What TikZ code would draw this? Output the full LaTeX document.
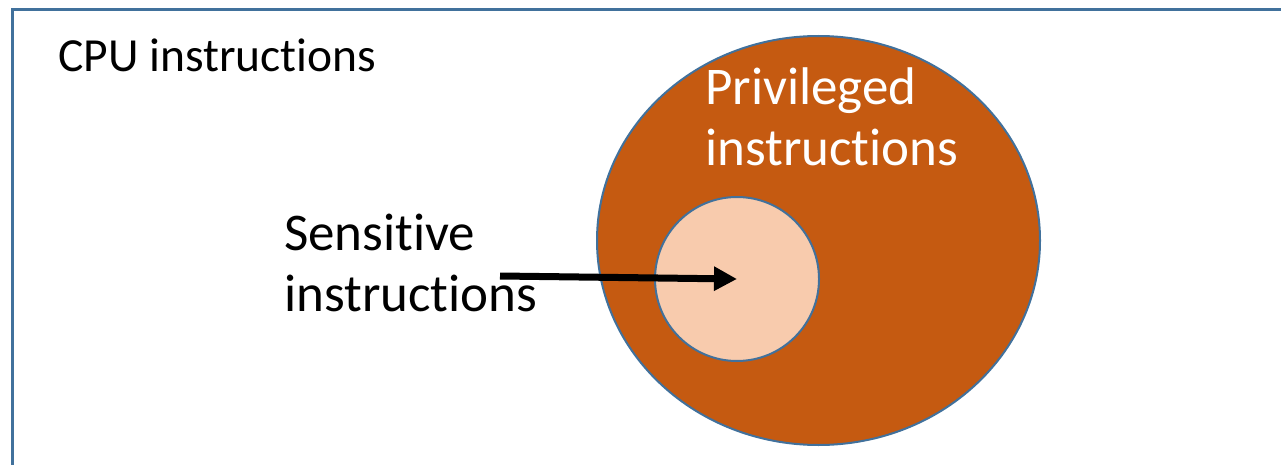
\documentclass[tikz,border=0pt]{standalone}
\usepackage{fontspec}
\setmainfont[Ligatures={NoCommon}]{Carlito}
\usepackage{xcolor}
\usepackage{tikz}
\usetikzlibrary{shapes.geometric, positioning, arrows.meta}

\definecolor{frameblue}{RGB}{65,113,156}
\definecolor{privorange}{RGB}{197,90,17}
\definecolor{senspeach}{RGB}{248,203,173}

\begin{document}
\begin{tikzpicture}[
    x=1pt, y=-1pt,
    set/.style={draw=frameblue, line width=2pt, inner sep=0pt},
    label/.style={inner sep=0pt, align=left, anchor=base west},
    big/.style={font=\fontsize{53}{61}\selectfont}
]
\useasboundingbox (0,0) rectangle (1281,465);
\clip (0,0) rectangle (1281,465);

% outer frame
\draw[frameblue, line width=3pt] (12,10) rectangle (1300,490);
\node[label, font=\fontsize{47.5}{56}\selectfont] (cpu) at (58,72) {CPU instructions};

% privileged and sensitive sets
\node[set, ellipse, fill=privorange, minimum width=443pt, minimum height=409pt] (priv) at (818.5,240.5) {};
\node[set, circle, fill=senspeach, minimum size=164pt] (sens) at (737,279) {};

% Labels (base = last line)
\node[label, big, text=white] (privtext) at (705,166) {Privileged\\instructions};
\node[label, big] (senstext) at (284,311) {Sensitive\\instructions};

% Arrow
\coordinate (from) at (500,276);
\draw[-{Triangle[length=23pt, width=23pt]}, line width=7pt] (from) -- (sens.center);
\end{tikzpicture}
\end{document}
